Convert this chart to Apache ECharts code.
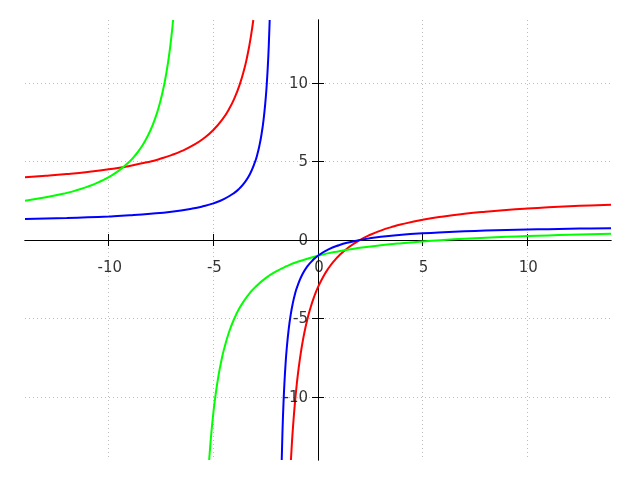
<!DOCTYPE html>
<html>
<head>
<meta charset="utf-8">
<script src="https://cdn.jsdelivr.net/npm/echarts@6/dist/echarts.min.js"></script>
<style>
  html, body { margin: 0; padding: 0; background: #fff; }
  #chart { width: 640px; height: 480px; }
</style>
</head>
<body>
<div id="chart"></div>
<script>
// tick positions shown on both axes
var xTicks = [-10, -5, 0, 5, 10];
var yTicks = [-10, -5, 0, 5, 10];

// red curve, two branches [x, y]
var redLeft = [
  [-14, 4.0], [-13, 4.091], [-12, 4.2], [-11, 4.333], [-10, 4.5], [-9, 4.714],
  [-8, 5.0], [-7.5, 5.182], [-7, 5.4], [-6.5, 5.667], [-6, 6.0], [-5.5, 6.429],
  [-5, 7.0], [-4.5, 7.8], [-4.25, 8.333], [-4, 9.0], [-3.75, 9.857],
  [-3.5, 11.0], [-3.4, 11.571], [-3.3, 12.231], [-3.2, 13.0], [-3.091, 14.0]
];
var redRight = [
  [-1.294, -14], [-1.25, -13], [-1.2, -12], [-1.1, -10.333], [-1.0, -9],
  [-0.9, -7.909], [-0.8, -7], [-0.7, -6.231], [-0.6, -5.571], [-0.5, -5],
  [-0.4, -4.5], [-0.2, -3.667], [0, -3], [0.25, -2.333], [0.5, -1.8],
  [0.75, -1.364], [1, -1], [1.5, -0.429], [2, 0], [2.5, 0.333], [3, 0.6],
  [3.5, 0.818], [4, 1.0], [5, 1.286], [6, 1.5], [7, 1.667], [8, 1.8],
  [9, 1.909], [10, 2.0], [11, 2.077], [12, 2.143], [13, 2.2], [14, 2.25]
];

// green curve
var greenLeft = [
  [-14, 2.5], [-13, 2.714], [-12, 3.0], [-11.5, 3.182], [-11, 3.4],
  [-10.5, 3.667], [-10, 4.0], [-9.5, 4.429], [-9, 5.0], [-8.75, 5.364],
  [-8.5, 5.8], [-8.25, 6.333], [-8, 7.0], [-7.8, 7.667], [-7.6, 8.5],
  [-7.4, 9.571], [-7.3, 10.231], [-7.2, 11.0], [-7.1, 11.909], [-7.0, 13.0],
  [-6.923, 14.0]
];
var greenRight = [
  [-5.2, -14], [-5.15, -13.118], [-5.1, -12.333], [-5.0, -11], [-4.9, -9.909],
  [-4.75, -8.6], [-4.6, -7.571], [-4.5, -7], [-4.25, -5.857], [-4, -5],
  [-3.75, -4.333], [-3.5, -3.8], [-3.25, -3.364], [-3, -3], [-2.5, -2.429],
  [-2, -2], [-1.5, -1.667], [-1, -1.4], [0, -1], [1, -0.714], [2, -0.5],
  [3, -0.333], [4, -0.2], [5, -0.091], [6, 0], [7, 0.077], [8, 0.143],
  [9, 0.2], [10, 0.25], [11, 0.294], [12, 0.333], [13, 0.368], [14, 0.4]
];

// blue curve
var blueLeft = [
  [-14, 1.333], [-13, 1.364], [-12, 1.4], [-11, 1.444], [-10, 1.5], [-9, 1.571],
  [-8, 1.667], [-7, 1.8], [-6, 2.0], [-5.5, 2.143], [-5, 2.333], [-4.5, 2.6],
  [-4, 3.0], [-3.75, 3.286], [-3.5, 3.667], [-3.25, 4.2], [-3, 5.0],
  [-2.9, 5.444], [-2.8, 6.0], [-2.7, 6.714], [-2.6, 7.667], [-2.5, 9.0],
  [-2.45, 9.889], [-2.4, 11.0], [-2.35, 12.429], [-2.308, 14.0]
];
var blueRight = [
  [-1.733, -14], [-1.7, -12.333], [-1.65, -10.429], [-1.6, -9], [-1.55, -7.889],
  [-1.5, -7], [-1.4, -5.667], [-1.3, -4.714], [-1.2, -4], [-1.1, -3.444],
  [-1, -3], [-0.75, -2.2], [-0.5, -1.667], [-0.25, -1.286], [0, -1],
  [0.5, -0.6], [1, -0.333], [1.5, -0.143], [2, 0], [3, 0.2], [4, 0.333],
  [5, 0.429], [6, 0.5], [7, 0.556], [8, 0.6], [9, 0.636], [10, 0.667],
  [11, 0.692], [12, 0.714], [13, 0.733], [14, 0.75]
];

var chart = echarts.init(document.getElementById("chart"), null, { renderer: "canvas" });

var font = { fontFamily: "DejaVu Sans", fontSize: 15, color: "#000000" };
var gridLine = { show: true, lineStyle: { color: "#bdbdbd", width: 1, type: [1, 3] } };

function curve(data, color) {
  return {
    type: "line",
    data: data,
    showSymbol: false,
    smooth: true,
    clip: true,
    lineStyle: { color: color, width: 2 },
    itemStyle: { color: color }
  };
}

// tick labels placed next to the zero-crossing axes
function tickLabels(data, position, distance, offset) {
  return {
    type: "scatter",
    data: data,
    symbolSize: 0,
    silent: true,
    z: 5,
    label: Object.assign({
      show: true,
      position: position,
      distance: distance,
      offset: offset,
      formatter: function (p) {
        var v = position === "bottom" ? p.value[0] : p.value[1];
        return String(v);
      }
    }, font)
  };
}

function axisPair(ticks, pos1, pos2) {
  return [
    {
      type: "value", min: -14, max: 14, position: pos1,
      axisLine: { onZero: true, onZeroAxisIndex: 0, lineStyle: { color: "#000", width: 1 } },
      axisTick: { show: true, length: 6, customValues: ticks, lineStyle: { color: "#000" } },
      axisLabel: { show: false, customValues: ticks },
      splitLine: gridLine
    },
    {
      type: "value", min: -14, max: 14, position: pos2,
      axisLine: { onZero: true, onZeroAxisIndex: 0, lineStyle: { color: "#000", width: 1 } },
      axisTick: { show: true, length: 6, customValues: ticks, lineStyle: { color: "#000" } },
      axisLabel: { show: false, customValues: ticks },
      splitLine: { show: false }
    }
  ];
}

chart.setOption({
  animation: false,
  grid: { left: 25, right: 29, top: 20, bottom: 20, containLabel: false, outerBoundsMode: "none" },
  xAxis: axisPair(xTicks, "bottom", "top"),
  yAxis: axisPair(yTicks, "left", "right"),
  series: [
    curve(redLeft, "#ff0000"),
    curve(redRight, "#ff0000"),
    curve(greenLeft, "#00ff00"),
    curve(greenRight, "#00ff00"),
    curve(blueLeft, "#0000ff"),
    curve(blueRight, "#0000ff"),
    tickLabels(xTicks.map(function (v) { return [v, 0]; }), "bottom", 21, [1, 0]),
    tickLabels(yTicks.map(function (v) { return [0, v]; }), "left", 10, [0, 1])
  ]
});
</script>
</body>
</html>
